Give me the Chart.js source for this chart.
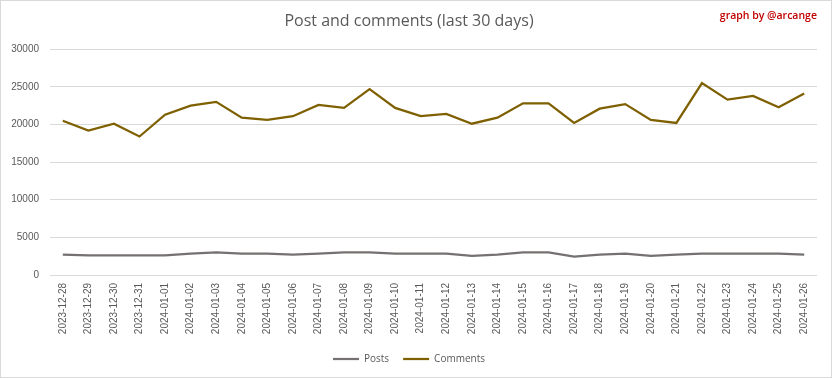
<!DOCTYPE html>
<html>
<head>
<meta charset="utf-8">
<script src="https://cdn.jsdelivr.net/npm/chart.js@4"></script>
<style>
  body { margin: 0; background: #fff; }
  #wrap { position: relative; width: 832px; height: 378px; border: 1px solid #d9d9d9; box-sizing: border-box; }
  #credit { position: absolute; right: 14px; top: 7px; font: 600 10.5px "Open Sans", sans-serif; color: #c00000; }
</style>
</head>
<body>
<div id="wrap">
  <canvas id="chart" width="830" height="376"></canvas>
  <div id="credit">graph by @arcange</div>
</div>
<script>
const days = [
  '2023-12-28', '2023-12-29', '2023-12-30', '2023-12-31', '2024-01-01', '2024-01-02',
  '2024-01-03', '2024-01-04', '2024-01-05', '2024-01-06', '2024-01-07', '2024-01-08',
  '2024-01-09', '2024-01-10', '2024-01-11', '2024-01-12', '2024-01-13', '2024-01-14',
  '2024-01-15', '2024-01-16', '2024-01-17', '2024-01-18', '2024-01-19', '2024-01-20',
  '2024-01-21', '2024-01-22', '2024-01-23', '2024-01-24', '2024-01-25', '2024-01-26'
]

const posts = [
  2700, 2600, 2600, 2600, 2600, 2850, 3000, 2850, 2850, 2700,
  2850, 3000, 3000, 2850, 2850, 2850, 2550, 2700, 3000, 3000,
  2450, 2700, 2850, 2550, 2700, 2850, 2850, 2850, 2850, 2700
]

const comments = [
  20500, 19200, 20100, 18400, 21300, 22500, 23000, 20900, 20600, 21100,
  22600, 22200, 24700, 22200, 21100, 21400, 20100, 20900, 22800, 22800,
  20200, 22100, 22700, 20600, 20200, 25500, 23300, 23800, 22300, 24100
]

const yTicks = [0, 5000, 10000, 15000, 20000, 25000, 30000]

const gray = '#595959'

new Chart(document.getElementById('chart'), {
    type: 'line',
    data: {
        labels: days,
        datasets: [
            { label: 'Posts', data: posts, borderColor: '#767171', backgroundColor: '#767171', borderWidth: 2.25, pointRadius: 0, pointStyle: 'line', tension: 0 },
            { label: 'Comments', data: comments, borderColor: '#7f6000', backgroundColor: '#7f6000', borderWidth: 2.25, pointRadius: 0, pointStyle: 'line', tension: 0 }
        ]
    },
    options: {
        responsive: false,
        animation: false,
        layout: { padding: { left: 0, right: 14, top: 0, bottom: 3 } },
        plugins: {
            title: {
                display: true,
                text: 'Post and comments (last 30 days)',
                color: gray,
                font: { family: 'Open Sans', size: 16, weight: 'normal' },
                padding: { top: 11, bottom: 18 }
            },
            legend: {
                position: 'bottom',
                labels: {
                    usePointStyle: true,
                    pointStyleWidth: 26,
                    color: gray,
                    padding: 14,
                    font: { family: 'Open Sans', size: 10 }
                }
            },
            tooltip: { enabled: false }
        },
        scales: {
            x: {
                offset: true,
                grid: { display: false, drawTicks: false },
                border: { display: false },
                ticks: {
                    autoSkip: false,
                    minRotation: 90,
                    maxRotation: 90,
                    padding: 8,
                    color: gray,
                    font: { family: 'Liberation Sans', size: 10 }
                },
                afterFit: scale => { scale.height = 65 }
            },
            y: {
                min: 0,
                max: 30000,
                afterBuildTicks: scale => { scale.ticks = yTicks.map(v => ({ value: v })) },
                grid: { color: '#d9d9d9', drawTicks: false },
                border: { display: false },
                ticks: {
                    padding: 11,
                    color: gray,
                    font: { family: 'Liberation Sans', size: 10 },
                    callback: v => String(v)
                },
                afterFit: scale => { scale.width = 49 }
            }
        }
    }
})
</script>
</body>
</html>
